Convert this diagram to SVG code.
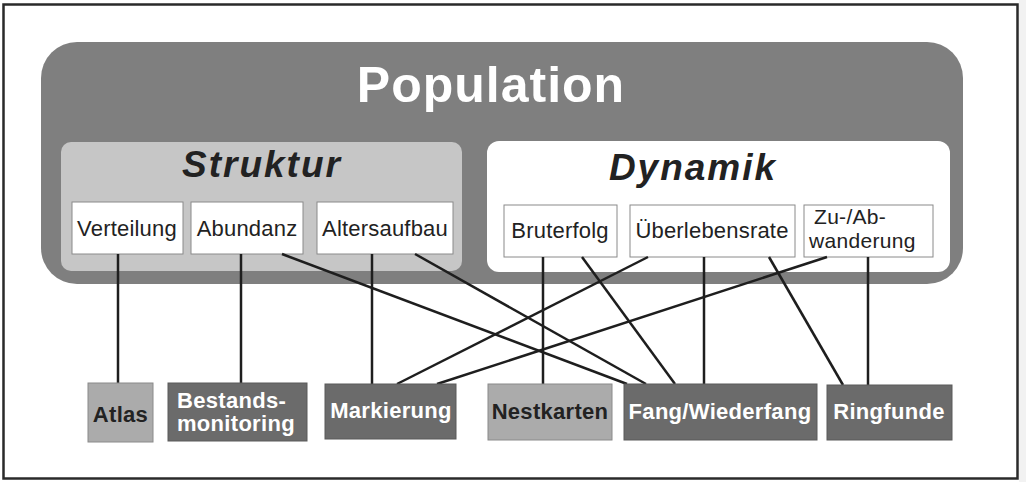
<svg xmlns="http://www.w3.org/2000/svg" width="1026" height="482" viewBox="0 0 1026 482">
<style>
.frame{fill:#ffffff;stroke:#2a2a2a;stroke-width:2.5}
.pop{fill:#7f7f7f}
.struk{fill:#c6c6c6}
.dyn{fill:#ffffff}
.box{fill:#ffffff;stroke:#8a8a8a;stroke-width:1}
.dark{fill:#6b6b6b;stroke:#5a5a5a;stroke-width:1}
.light{fill:#ababab;stroke:#8a8a8a;stroke-width:1}
.t1{font-family:"Liberation Sans",Arial,sans-serif;font-weight:bold;font-size:50px;fill:#ffffff;letter-spacing:1px}
.t2{font-family:"Liberation Sans",Arial,sans-serif;font-weight:bold;font-style:italic;font-size:37px;fill:#222;letter-spacing:2px}
.t3{font-family:"Liberation Sans",Arial,sans-serif;font-size:22px;fill:#222;letter-spacing:0.2px}
.t4{font-family:"Liberation Sans",Arial,sans-serif;font-size:21px;fill:#222;letter-spacing:0.3px}
.tw{font-family:"Liberation Sans",Arial,sans-serif;font-weight:bold;font-size:22px;fill:#ffffff;letter-spacing:0.3px}
.td{font-family:"Liberation Sans",Arial,sans-serif;font-weight:bold;font-size:22px;fill:#222;letter-spacing:0.3px}
.c{stroke:#1e1e1e;stroke-width:2.5;fill:none}
</style>
<rect x="0" y="0" width="1026" height="482" fill="#ffffff"/>
<rect x="1019" y="0" width="7" height="482" fill="#f2f2f2"/>
<rect class="frame" x="3.5" y="4.5" width="1014" height="474"/>
<g id="population">
<rect class="pop" x="41" y="42" width="922" height="242" rx="36"/>
<text class="t1" x="491" y="102" text-anchor="middle">Population</text>
</g>
<g id="struktur">
<rect class="struk" x="61" y="142" width="401" height="129" rx="10"/>
<text class="t2" x="262" y="177" text-anchor="middle">Struktur</text>
</g>
<g id="dynamik">
<rect class="dyn" x="487" y="141" width="463" height="131" rx="12"/>
<text class="t2" x="693" y="180" text-anchor="middle">Dynamik</text>
</g>
<g id="verteilung">
<rect class="box" x="72" y="202" width="111" height="52"/>
<text class="t3" x="127" y="236" text-anchor="middle">Verteilung</text>
</g>
<g id="abundanz">
<rect class="box" x="191" y="202" width="112" height="52"/>
<text class="t3" x="247" y="236" text-anchor="middle">Abundanz</text>
</g>
<g id="altersaufbau">
<rect class="box" x="317" y="202" width="136" height="52"/>
<text class="t3" x="385" y="236" text-anchor="middle">Altersaufbau</text>
</g>
<g id="bruterfolg">
<rect class="box" x="504" y="205" width="113" height="52"/>
<text class="t3" x="560" y="238" text-anchor="middle">Bruterfolg</text>
</g>
<g id="ueberlebensrate">
<rect class="box" x="630" y="205" width="165" height="52"/>
<text class="t3" x="712" y="238" text-anchor="middle">Überlebensrate</text>
</g>
<g id="zuabwanderung">
<rect class="box" x="804" y="205" width="129" height="52"/>
<text class="t4" x="814" y="224">Zu-/Ab-</text>
<text class="t4" x="809" y="248">wanderung</text>
</g>
<g id="connectors">
<line class="c" x1="118" y1="254" x2="118" y2="383"/>
<line class="c" x1="241" y1="254" x2="241" y2="383"/>
<line class="c" x1="282" y1="254" x2="627" y2="384"/>
<line class="c" x1="372" y1="254" x2="372" y2="384"/>
<line class="c" x1="415" y1="254" x2="646" y2="384"/>
<line class="c" x1="543" y1="257" x2="543" y2="384"/>
<line class="c" x1="582" y1="257" x2="675" y2="384"/>
<line class="c" x1="648" y1="257" x2="397" y2="384"/>
<line class="c" x1="704" y1="257" x2="704" y2="384"/>
<line class="c" x1="769" y1="257" x2="843" y2="385"/>
<line class="c" x1="827" y1="257" x2="437" y2="384"/>
<line class="c" x1="868" y1="257" x2="868" y2="385"/>
</g>
<g id="atlas">
<rect class="light" x="88" y="383" width="65" height="59"/>
<text class="td" x="120.5" y="422" text-anchor="middle">Atlas</text>
</g>
<g id="bestandsmonitoring">
<rect class="dark" x="168" y="383" width="139" height="58"/>
<text class="tw" x="177" y="408">Bestands-</text>
<text class="tw" x="177" y="431">monitoring</text>
</g>
<g id="markierung">
<rect class="dark" x="325" y="384" width="131" height="55"/>
<text class="tw" x="391" y="418" text-anchor="middle">Markierung</text>
</g>
<g id="nestkarten">
<rect class="light" x="488" y="384" width="124" height="56"/>
<text class="td" x="550" y="419" text-anchor="middle">Nestkarten</text>
</g>
<g id="fangwiederfang">
<rect class="dark" x="624" y="384" width="193" height="56"/>
<text class="tw" x="720" y="419" text-anchor="middle">Fang/Wiederfang</text>
</g>
<g id="ringfunde">
<rect class="dark" x="827" y="385" width="125" height="55"/>
<text class="tw" x="889" y="419" text-anchor="middle">Ringfunde</text>
</g>
</svg>
